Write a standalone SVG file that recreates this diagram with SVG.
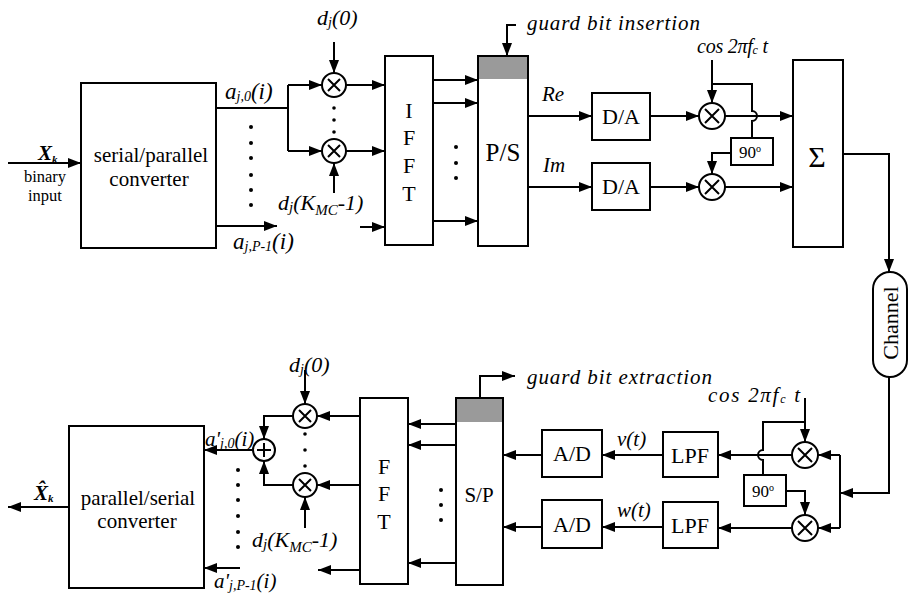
<svg xmlns="http://www.w3.org/2000/svg" width="911" height="596" viewBox="0 0 911 596" font-family="'Liberation Serif','DejaVu Serif',serif">
<style>
.b{fill:#fff;stroke:#000;stroke-width:2}
.c{fill:none;stroke:#000;stroke-width:2}
.a{fill:none;stroke:#000;stroke-width:2;marker-end:url(#ah)}
.t{font-family:'Liberation Serif','DejaVu Serif',serif;fill:#000}
.i{font-family:'Liberation Serif','DejaVu Serif',serif;font-style:italic;fill:#000}
.m{text-anchor:middle}
.dot{fill:#000}
</style>
<defs>
<marker id="ah" markerWidth="13" markerHeight="10" refX="13" refY="5" orient="auto" markerUnits="userSpaceOnUse"><path d="M0,0 L13,5 L0,10 z" fill="#000"/></marker>
<g id="mul"><circle r="12" class="b"/><path d="M-6,-6 L6,6 M6,-6 L-6,6" class="c"/></g>
</defs>
<rect width="911" height="596" fill="#fff"/>

<g id="connectors">
<path class="a" d="M8,163 H81"/>
<path class="c" d="M216,108 H288 M288,85 V151"/>
<path class="a" d="M288,85 H322"/>
<path class="a" d="M288,151 H322"/>
<path class="a" d="M334,42 V73"/>
<path class="a" d="M334,193 V163"/>
<path class="a" d="M346,85 H385"/>
<path class="a" d="M346,151 H385"/>
<path class="a" d="M216,226 H277"/>
<path class="a" d="M360,227 H385"/>
<path class="a" d="M433,80 H478"/>
<path class="a" d="M433,103 H478"/>
<path class="a" d="M433,221 H478"/>
<path class="a" d="M516,25 H507 V56"/>
<path class="a" d="M528,116 H592"/>
<path class="a" d="M528,187 H592"/>
<path class="a" d="M650,116 H699"/>
<path class="a" d="M650,187 H699"/>
<path class="a" d="M712,60 V103"/>
<path class="c" d="M712,84 H752 V111 a5,5 0 0 1 0,10 V138"/>
<path class="a" d="M731,153 H712 V174"/>
<path class="a" d="M725,116 H793"/>
<path class="a" d="M725,187 H793"/>
<path class="a" d="M843,154 H889 V272"/>
<path class="a" d="M889,377 V493 H840"/>
<path class="c" d="M840,455 V528"/>
<path class="a" d="M840,455 H818"/>
<path class="a" d="M840,528 H818"/>
<path class="a" d="M805,398 V442"/>
<path class="c" d="M805,422 H763 V450 a5,5 0 0 0 0,10 V475"/>
<path class="a" d="M786,491 H805 V515"/>
<path class="a" d="M792,455 H718"/>
<path class="a" d="M792,528 H718"/>
<path class="a" d="M663,455 H602"/>
<path class="a" d="M663,527 H602"/>
<path class="a" d="M542,455 H503"/>
<path class="a" d="M542,527 H503"/>
<path class="a" d="M480,398 V376 H515"/>
<path class="a" d="M456,424 H408"/>
<path class="a" d="M456,445 H408"/>
<path class="a" d="M456,563 H408"/>
<path class="a" d="M360,416 H317"/>
<path class="a" d="M360,485 H317"/>
<path class="a" d="M360,570 H318"/>
<path class="a" d="M305,370 V404"/>
<path class="a" d="M305,528 V497"/>
<path class="a" d="M293,416 H264 V439"/>
<path class="a" d="M293,485 H264 V461"/>
<path class="a" d="M253,450 H204"/>
<path class="a" d="M240,568 H204"/>
<path class="a" d="M69,507 H8"/>
</g>

<g id="input-label">
<text class="i" x="38" y="160" font-size="21" font-weight="bold">X<tspan font-size="11" dy="3">k</tspan></text>
<text class="t m" x="45" y="182" font-size="16.5">binary</text>
<text class="t m" x="45" y="201" font-size="16.5">input</text>
</g>

<g id="sp-converter">
<rect class="b" x="81" y="83" width="135" height="165"/>
<text class="t m" x="151" y="162" font-size="21">serial/parallel</text>
<text class="t m" x="149" y="186" font-size="21">converter</text>
</g>

<g id="tx-labels">
<text class="i" x="225" y="99" font-size="23">a<tspan font-size="14" dy="2">j,0</tspan><tspan dy="-2">(i)</tspan></text>
<text class="i" x="233" y="249" font-size="23">a<tspan font-size="14" dy="2">j,P-1</tspan><tspan dy="-2">(i)</tspan></text>
<text class="i" x="317" y="25" font-size="22">d<tspan font-size="14" dy="2">j</tspan><tspan dy="-2">(0)</tspan></text>
<text class="i" x="278" y="210" font-size="22">d<tspan font-size="15" dy="2">j</tspan><tspan dy="-2">(K</tspan><tspan font-size="15" dy="5">MC</tspan><tspan dy="-5">-1)</tspan></text>
<circle class="dot" cx="251" cy="127" r="2"/><circle class="dot" cx="251" cy="143" r="2"/><circle class="dot" cx="251" cy="158" r="2"/><circle class="dot" cx="251" cy="175" r="2"/><circle class="dot" cx="251" cy="190" r="2"/><circle class="dot" cx="251" cy="205" r="2"/>
<circle class="dot" cx="334" cy="108" r="1.8"/><circle class="dot" cx="334" cy="120" r="1.8"/><circle class="dot" cx="334" cy="132" r="1.8"/>
<circle class="dot" cx="456" cy="147" r="2"/><circle class="dot" cx="456" cy="163" r="2"/><circle class="dot" cx="456" cy="178" r="2"/>
</g>

<g id="tx-mul0"><use href="#mul" x="334" y="85"/></g>
<g id="tx-mul1"><use href="#mul" x="334" y="151"/></g>

<g id="ifft">
<rect class="b" x="385" y="56" width="48" height="189"/>
<text class="t m" x="409" y="118" font-size="22">I</text>
<text class="t m" x="409" y="145" font-size="22">F</text>
<text class="t m" x="409" y="173" font-size="22">F</text>
<text class="t m" x="409" y="201" font-size="22">T</text>
</g>

<g id="ps">
<rect class="b" x="478" y="56" width="50" height="190"/>
<rect x="479" y="57" width="48" height="22" fill="#9a9a9a"/>
<text class="t m" x="503" y="161" font-size="25">P/S</text>
<text class="i" x="527" y="30" font-size="21" textLength="173" lengthAdjust="spacing">guard bit insertion</text>
<text class="i" x="542" y="101" font-size="21">Re</text>
<text class="i" x="543" y="172" font-size="21">Im</text>
</g>

<g id="da-re"><rect class="b" x="592" y="93" width="58" height="47"/><text class="t m" x="621" y="124" font-size="22">D/A</text></g>
<g id="da-im"><rect class="b" x="592" y="163" width="58" height="47"/><text class="t m" x="621" y="194" font-size="22">D/A</text></g>
<g id="tx-mix-re"><circle cx="712" cy="116" r="13" class="b"/><path d="M705,109 L719,123 M719,109 L705,123" class="c"/></g>
<g id="tx-mix-im"><circle cx="712" cy="187" r="13" class="b"/><path d="M705,180 L719,194 M719,180 L705,194" class="c"/></g>
<g id="tx-osc">
<text class="i" x="697" y="53" font-size="20" textLength="71" lengthAdjust="spacing">cos 2πf<tspan font-size="12" dy="1">c</tspan><tspan dy="-1"> t</tspan></text>
</g>
<g id="tx-90"><rect class="b" x="731" y="138" width="42" height="27"/><text class="t m" x="750" y="158" font-size="17">90<tspan font-size="10" dy="-6">o</tspan></text></g>

<g id="sum"><rect class="b" x="793" y="60" width="50" height="187"/><text class="t m" x="817" y="167" font-size="30">Σ</text></g>

<g id="channel"><rect class="b" x="873" y="272" width="34" height="105" rx="17"/><text class="t m" transform="translate(898,323) rotate(-90)" font-size="22">Channel</text></g>

<g id="rx-mix-v"><circle cx="805" cy="455" r="13" class="b"/><path d="M798,448 L812,462 M812,448 L798,462" class="c"/></g>
<g id="rx-mix-w"><circle cx="805" cy="528" r="13" class="b"/><path d="M798,521 L812,535 M812,521 L798,535" class="c"/></g>
<g id="rx-osc"><text class="i" x="708" y="402" font-size="21" textLength="92" lengthAdjust="spacing">cos 2πf<tspan font-size="12" dy="1">c</tspan><tspan dy="-1"> t</tspan></text></g>
<g id="rx-90"><rect class="b" x="744" y="475" width="42" height="31"/><text class="t m" x="763" y="497" font-size="17">90<tspan font-size="10" dy="-6">o</tspan></text></g>

<g id="lpf-v"><rect class="b" x="663" y="432" width="55" height="45"/><text class="t m" x="690" y="463" font-size="22">LPF</text></g>
<g id="lpf-w"><rect class="b" x="663" y="502" width="55" height="46"/><text class="t m" x="690" y="533" font-size="22">LPF</text></g>
<g id="rx-labels">
<text class="i" x="617" y="446" font-size="21">v(t)</text>
<text class="i" x="617" y="517" font-size="21">w(t)</text>
</g>
<g id="ad-v"><rect class="b" x="542" y="430" width="60" height="47"/><text class="t m" x="572" y="461" font-size="22">A/D</text></g>
<g id="ad-w"><rect class="b" x="542" y="500" width="60" height="48"/><text class="t m" x="572" y="532" font-size="22">A/D</text></g>

<g id="sp">
<rect class="b" x="456" y="398" width="47" height="187"/>
<rect x="457" y="399" width="45" height="23" fill="#9a9a9a"/>
<text class="t m" x="479" y="502" font-size="21">S/P</text>
<text class="i" x="527" y="384" font-size="21" textLength="185" lengthAdjust="spacing">guard bit extraction</text>
<circle class="dot" cx="441" cy="490" r="2"/><circle class="dot" cx="441" cy="505" r="2"/><circle class="dot" cx="441" cy="520" r="2"/>
</g>

<g id="fft">
<rect class="b" x="360" y="398" width="48" height="186"/>
<text class="t m" x="384" y="474" font-size="22">F</text>
<text class="t m" x="384" y="501" font-size="22">F</text>
<text class="t m" x="384" y="529" font-size="22">T</text>
</g>

<g id="rx-mul0"><use href="#mul" x="305" y="416"/></g>
<g id="rx-mul1"><use href="#mul" x="305" y="485"/></g>
<g id="adder"><circle cx="264" cy="450" r="11" class="b"/><path d="M257,450 H271 M264,443 V457" class="c"/></g>

<g id="rx-dlabels">
<text class="i" x="289" y="372" font-size="22">d<tspan font-size="14" dy="2">j</tspan><tspan dy="-2">(0)</tspan></text>
<text class="i" x="252" y="547" font-size="22">d<tspan font-size="15" dy="2">j</tspan><tspan dy="-2">(K</tspan><tspan font-size="15" dy="5">MC</tspan><tspan dy="-5">-1)</tspan></text>
<circle class="dot" cx="305" cy="434" r="1.8"/><circle class="dot" cx="305" cy="450" r="1.8"/><circle class="dot" cx="305" cy="466" r="1.8"/>
<text class="i" x="205" y="446" font-size="21">a'<tspan font-size="14" dy="2">j,0</tspan><tspan dy="-2">(i)</tspan></text>
<text class="i" x="214" y="588" font-size="21">a'<tspan font-size="14" dy="2">j,P-1</tspan><tspan dy="-2">(i)</tspan></text>
<circle class="dot" cx="238" cy="470" r="2"/><circle class="dot" cx="238" cy="485" r="2"/><circle class="dot" cx="238" cy="500" r="2"/><circle class="dot" cx="238" cy="516" r="2"/><circle class="dot" cx="238" cy="532" r="2"/><circle class="dot" cx="238" cy="547" r="2"/>
</g>

<g id="ps-converter">
<rect class="b" x="69" y="426" width="135" height="162"/>
<text class="t m" x="138" y="505" font-size="21">parallel/serial</text>
<text class="t m" x="137" y="528" font-size="21">converter</text>
</g>
<g id="output-label">
<text class="i" x="34" y="500" font-size="21" font-weight="bold">X̂<tspan font-size="11" dy="2">k</tspan></text>
</g>
</svg>
